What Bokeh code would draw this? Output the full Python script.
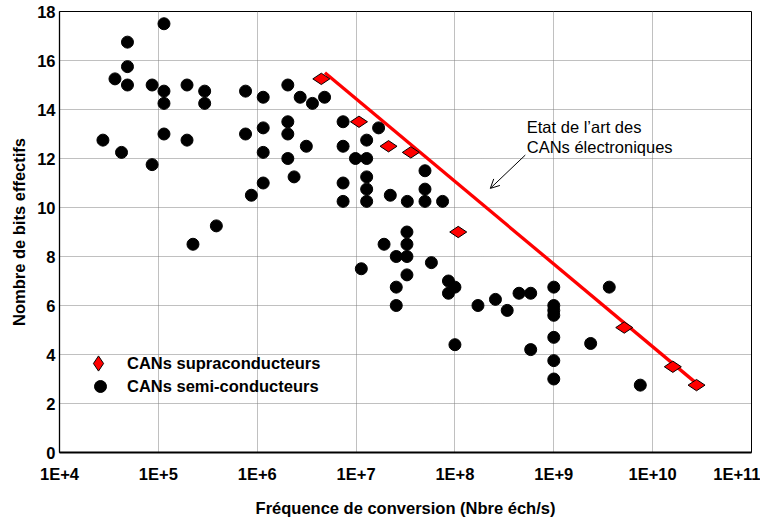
import numpy as np
from bokeh.plotting import figure
from bokeh.models import FixedTicker, Legend, LegendItem, Label, Arrow, OpenHead
from bokeh.embed import file_html
from bokeh.resources import INLINE

# Semiconductor ADCs: conversion rate (samples/s) and effective number of bits
semi_freq = [
    2.75e4, 3.64e4, 4.24e4, 4.87e4, 4.87e4, 4.87e4, 8.65e4, 8.65e4,
    1.14e5, 1.14e5, 1.14e5, 1.14e5, 1.95e5, 1.95e5, 2.24e5, 2.94e5, 2.94e5,
    3.86e5, 7.62e5, 7.62e5, 8.73e5,
    1.15e6, 1.15e6, 1.15e6, 1.15e6, 2.04e6, 2.04e6, 2.04e6, 2.04e6, 2.36e6,
    2.72e6, 3.14e6, 3.62e6, 4.8e6, 7.39e6, 7.39e6, 7.39e6, 7.39e6, 9.86e6,
    1.28e7, 1.28e7, 1.28e7, 1.28e7, 1.28e7, 1.69e7, 1.13e7, 1.92e7, 2.22e7,
    2.55e7, 2.55e7, 2.55e7, 3.3e7, 3.27e7, 3.27e7, 3.27e7, 3.27e7,
    4.98e7, 4.98e7, 4.98e7, 7.5e7, 5.78e7, 8.6e7, 8.6e7, 1.0e8, 1.0e8,
    1.71e8, 2.57e8, 3.38e8, 4.45e8, 5.84e8, 5.84e8,
    1.0e9, 1.0e9, 1.0e9, 1.0e9, 1.0e9, 1.0e9, 1.0e9, 2.36e9, 3.64e9, 7.5e9,
]
semi_enob = [
    12.75, 15.25, 12.25, 16.75, 15.75, 15.0, 15.0, 11.75,
    17.5, 14.75, 14.25, 13.0, 15.0, 12.75, 8.5, 14.75, 14.25,
    9.25, 14.75, 13.0, 10.5,
    14.5, 13.25, 12.25, 11.0, 15.0, 13.5, 13.0, 12.0, 11.25,
    14.5, 12.5, 14.25, 14.5, 13.5, 12.5, 11.0, 10.25, 12.0,
    12.75, 12.0, 11.25, 10.75, 10.25, 13.25, 7.5, 8.5, 10.5,
    8.0, 6.75, 6.0, 10.25, 9.0, 8.5, 8.0, 7.25,
    11.5, 10.75, 10.25, 10.25, 7.75, 7.0, 6.5, 6.75, 4.4,
    6.0, 6.25, 5.8, 6.5, 6.5, 4.2,
    6.75, 6.0, 5.8, 5.6, 4.7, 3.75, 3.0, 4.45, 6.75, 2.75,
]

# Superconducting ADCs
supra_freq = [4.45e6, 1.07e7, 2.13e7, 3.58e7, 1.08e8, 5.16e9, 1.6e10, 2.78e10]
supra_enob = [15.25, 13.5, 12.5, 12.25, 9.0, 5.1, 3.5, 2.75]

# State-of-the-art envelope of electronic ADCs
sota_freq = [4.84e6, 2.98e10]
sota_enob = [15.5, 2.72]

x_ticks = [1e4, 1e5, 1e6, 1e7, 1e8, 1e9, 1e10, 1e11]
x_tick_labels = ["1E+4", "1E+5", "1E+6", "1E+7", "1E+8", "1E+9", "1E+10", "1E+11"]
y_ticks = [0, 2, 4, 6, 8, 10, 12, 14, 16, 18]

FONT = "Liberation Sans"
FS = "16.5px"

p = figure(width=760, height=519, x_axis_type="log",
           x_range=(x_ticks[0], x_ticks[-1]), y_range=(y_ticks[0], y_ticks[-1]),
           output_backend="svg", toolbar_location=None,
           min_border_left=59, min_border_right=9, min_border_top=11,
           min_border_bottom=66,
           background_fill_color="white", border_fill_color="white")
p.outline_line_color = "black"
p.outline_line_width = 1

xa = p.xaxis[0]
ya = p.yaxis[0]
xa.ticker = FixedTicker(ticks=x_ticks)
ya.ticker = FixedTicker(ticks=y_ticks)
p.xgrid[0].ticker = FixedTicker(ticks=x_ticks)
p.ygrid[0].ticker = FixedTicker(ticks=y_ticks)
xa.major_label_overrides = {t: lab for t, lab in zip(x_ticks, x_tick_labels)}

for ax in (xa, ya):
    ax.major_tick_line_color = None
    ax.minor_tick_line_color = None
    ax.major_tick_in = 0
    ax.major_tick_out = 0
    ax.minor_tick_in = 0
    ax.minor_tick_out = 0
    ax.axis_line_color = "black"
    ax.major_label_text_font = FONT
    ax.major_label_text_font_style = "bold"
    ax.major_label_text_font_size = FS
    ax.major_label_text_color = "black"
    ax.axis_label_text_font = FONT
    ax.axis_label_text_font_style = "bold"
    ax.axis_label_text_font_size = FS
    ax.axis_label_text_color = "black"

xa.axis_label = "Fréquence de conversion (Nbre éch/s)"
xa.axis_line_width = 2
xa.major_label_standoff = 12
xa.axis_label_standoff = 13

ya.axis_label = "Nombre de bits effectifs"
ya.axis_line_width = 1.3
ya.major_label_standoff = 4
ya.axis_label_standoff = 6

for g in (p.xgrid[0], p.ygrid[0]):
    g.grid_line_color = "#808080"
    g.grid_line_dash = "1 1"
    g.grid_line_width = 1

semi = p.scatter(semi_freq, semi_enob, marker="circle", size=12,
                 fill_color="black", line_color="black")
p.line(sota_freq, sota_enob, line_color="#FF0000", line_width=3.3)
supra = p.scatter(supra_freq, supra_enob, marker="diamond", size=17, angle=np.pi / 2,
                  fill_color="#FF0000", line_color="black", line_width=1)

common = dict(padding=0, margin=0, spacing=0, border_line_color=None,
              background_fill_alpha=0, label_text_font=FONT,
              label_text_font_style="bold", label_text_font_size=FS,
              label_text_color="black")
leg_supra = Legend(items=[LegendItem(label="CANs supraconducteurs", renderers=[supra])],
                   location=(20, 70), glyph_width=38, glyph_height=38,
                   label_standoff=10, **common)
leg_semi = Legend(items=[LegendItem(label="CANs semi-conducteurs", renderers=[semi])],
                  location=(26, 51), glyph_width=30, glyph_height=30,
                  label_standoff=12, **common)
p.add_layout(leg_supra)
p.add_layout(leg_semi)

# annotation for the state-of-the-art line
for y_txt, txt in ((13.29, "Etat de l’art des"), (12.47, "CANs électroniques")):
    p.add_layout(Label(x=5.33e8, y=y_txt, text=txt, text_font=FONT,
                       text_font_size=FS, text_color="black",
                       text_baseline="alphabetic"))
p.add_layout(Arrow(end=OpenHead(size=9, line_width=1, line_color="black"),
                   x_start=5.15e8, y_start=12.14, x_end=2.28e8, y_end=10.78,
                   line_width=1, line_color="black"))

open("out.html", "w").write(file_html(p, INLINE))
